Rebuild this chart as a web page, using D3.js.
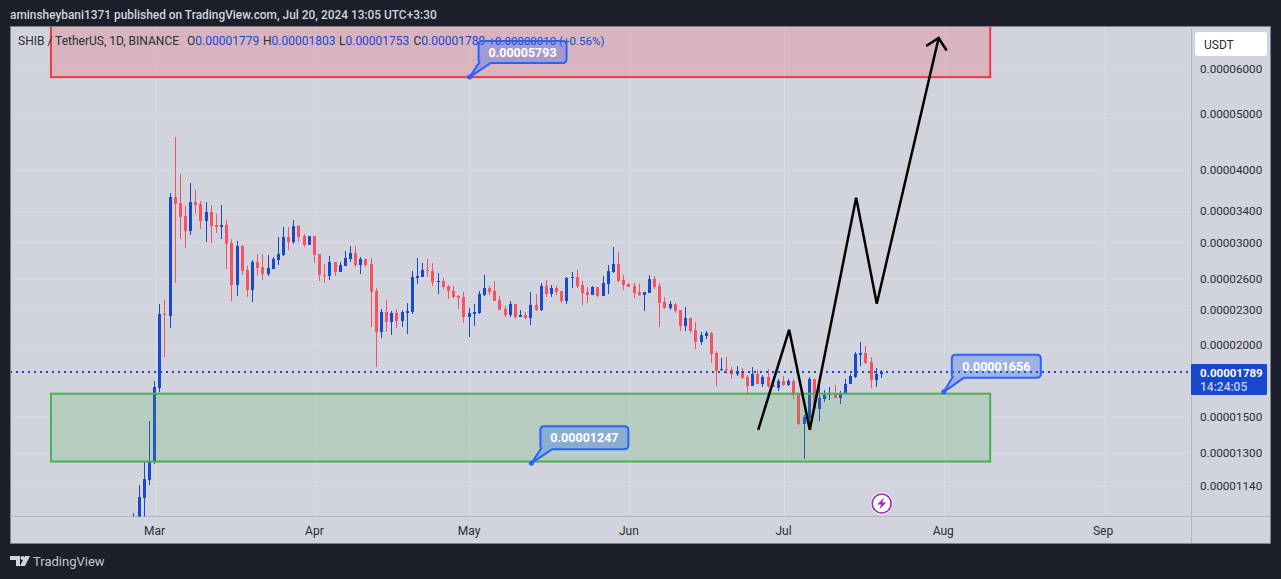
<!DOCTYPE html>
<html>
<head>
<meta charset="utf-8">
<script src="https://cdnjs.cloudflare.com/ajax/libs/d3/7.8.5/d3.min.js"></script>
<style>
html, body { margin: 0; padding: 0; background: #1c202b; overflow: hidden; }
svg { display: block; }
text { font-family: Roboto, "Noto Sans", sans-serif; }
</style>
</head>
<body>
<svg id="chart" width="1281" height="579"></svg>
<script>
// all prices below are in units of 0.00001 USDT, one candle per day from firstDay
var firstDay = "2024-02-26";

var opens = [
  0.960, 0.990, 1.085, 1.167, 1.255, 1.683, 2.260, 2.243, 3.600, 3.515,
  3.337, 3.144, 3.529, 3.501, 3.272, 3.391, 3.220, 3.195, 3.220, 2.998,
  2.537, 2.962, 2.692, 2.486, 2.780, 2.725, 2.650, 2.703, 2.802, 2.858,
  3.070, 3.010, 3.207, 3.082, 2.974, 3.082, 2.869, 2.640, 2.629, 2.780,
  2.671, 2.736, 2.813, 2.881, 2.747, 2.813, 2.758, 2.477, 2.104, 2.278,
  2.190, 2.269, 2.199, 2.269, 2.278, 2.608, 2.619, 2.692, 2.682, 2.567,
  2.577, 2.527, 2.477, 2.428, 2.418, 2.234, 2.260, 2.269, 2.437, 2.507,
  2.477, 2.389, 2.306, 2.251, 2.352, 2.234, 2.251, 2.225, 2.342, 2.296,
  2.527, 2.447, 2.507, 2.477, 2.380, 2.608, 2.619, 2.537, 2.467, 2.437,
  2.517, 2.428, 2.547, 2.671, 2.758, 2.587, 2.547, 2.527, 2.467, 2.437,
  2.457, 2.598, 2.527, 2.370, 2.315, 2.352, 2.296, 2.155, 2.225, 2.120,
  2.022, 2.071, 2.096, 1.935, 1.808, 1.815, 1.808, 1.780, 1.801, 1.759,
  1.697, 1.780, 1.710, 1.759, 1.704, 1.683, 1.731, 1.704, 1.731, 1.644,
  1.459, 1.494, 1.745, 1.548, 1.611, 1.637, 1.650, 1.618, 1.644, 1.710,
  1.759, 1.920, 1.935, 1.867, 1.738, 1.779
];
var highs = [
  1.023, 1.144, 1.255, 1.476, 1.731, 2.352, 2.389, 3.658, 4.571, 3.946,
  3.473, 3.806, 3.702, 3.543, 3.529, 3.487, 3.364, 3.487, 3.285, 3.046,
  3.022, 2.970, 2.736, 2.802, 2.869, 2.869, 2.858, 2.835, 3.070, 3.195,
  3.195, 3.285, 3.220, 3.107, 3.082, 3.082, 2.869, 2.758, 2.847, 2.780,
  2.780, 2.904, 2.962, 2.962, 2.835, 2.824, 2.824, 2.507, 2.306, 2.389,
  2.287, 2.306, 2.296, 2.361, 2.682, 2.824, 2.769, 2.813, 2.769, 2.661,
  2.608, 2.537, 2.527, 2.437, 2.467, 2.315, 2.352, 2.477, 2.640, 2.527,
  2.577, 2.428, 2.333, 2.380, 2.352, 2.296, 2.278, 2.467, 2.447, 2.557,
  2.587, 2.537, 2.527, 2.477, 2.619, 2.671, 2.692, 2.577, 2.517, 2.527,
  2.517, 2.629, 2.747, 2.951, 2.892, 2.640, 2.557, 2.557, 2.547, 2.467,
  2.640, 2.629, 2.557, 2.418, 2.380, 2.361, 2.296, 2.324, 2.225, 2.190,
  2.104, 2.112, 2.104, 1.950, 1.897, 1.905, 1.830, 1.838, 1.823, 1.773,
  1.830, 1.808, 1.773, 1.815, 1.731, 1.745, 1.766, 1.745, 1.745, 1.644,
  1.512, 1.759, 1.745, 1.710, 1.670, 1.690, 1.704, 1.663, 1.745, 1.780,
  1.943, 2.022, 1.990, 1.905, 1.823, 1.803
];
var lows = [
  0.940, 0.960, 0.980, 1.144, 1.245, 1.657, 1.905, 2.138, 2.557, 3.046,
  2.939, 3.095, 3.364, 3.169, 3.010, 2.998, 3.119, 3.046, 2.703, 2.380,
  2.428, 2.640, 2.418, 2.370, 2.629, 2.587, 2.629, 2.703, 2.747, 2.847,
  2.915, 2.986, 3.010, 2.951, 2.974, 2.769, 2.577, 2.557, 2.587, 2.629,
  2.671, 2.736, 2.780, 2.725, 2.650, 2.725, 2.147, 1.830, 2.054, 2.104,
  2.079, 2.138, 2.147, 2.087, 2.260, 2.547, 2.619, 2.619, 2.527, 2.447,
  2.497, 2.399, 2.408, 2.306, 2.181, 2.063, 2.155, 2.260, 2.428, 2.437,
  2.380, 2.296, 2.234, 2.234, 2.216, 2.234, 2.216, 2.164, 2.287, 2.287,
  2.418, 2.418, 2.437, 2.361, 2.352, 2.507, 2.507, 2.342, 2.361, 2.437,
  2.418, 2.428, 2.447, 2.661, 2.567, 2.486, 2.517, 2.408, 2.428, 2.287,
  2.457, 2.497, 2.147, 2.306, 2.296, 2.269, 2.112, 2.112, 2.096, 1.966,
  1.998, 2.046, 1.860, 1.697, 1.801, 1.780, 1.745, 1.766, 1.745, 1.637,
  1.697, 1.710, 1.690, 1.683, 1.690, 1.663, 1.697, 1.697, 1.611, 1.453,
  1.269, 1.453, 1.548, 1.476, 1.592, 1.605, 1.618, 1.580, 1.644, 1.710,
  1.752, 1.838, 1.852, 1.683, 1.690, 1.753
];
var closes = [
  0.990, 1.089, 1.172, 1.259, 1.690, 2.260, 2.251, 3.600, 3.501, 3.324,
  3.144, 3.529, 3.487, 3.272, 3.391, 3.207, 3.195, 3.220, 2.986, 2.537,
  2.962, 2.682, 2.486, 2.780, 2.714, 2.650, 2.714, 2.813, 2.869, 3.070,
  3.010, 3.207, 3.070, 2.974, 3.082, 2.858, 2.640, 2.629, 2.780, 2.671,
  2.747, 2.824, 2.881, 2.747, 2.813, 2.747, 2.467, 2.104, 2.278, 2.190,
  2.269, 2.199, 2.278, 2.287, 2.619, 2.629, 2.692, 2.682, 2.567, 2.577,
  2.517, 2.477, 2.418, 2.408, 2.234, 2.269, 2.278, 2.447, 2.507, 2.467,
  2.380, 2.296, 2.251, 2.352, 2.234, 2.251, 2.225, 2.342, 2.296, 2.527,
  2.447, 2.507, 2.467, 2.380, 2.608, 2.619, 2.527, 2.457, 2.437, 2.517,
  2.428, 2.557, 2.682, 2.758, 2.577, 2.537, 2.517, 2.457, 2.437, 2.467,
  2.598, 2.517, 2.361, 2.315, 2.352, 2.287, 2.155, 2.225, 2.112, 2.022,
  2.079, 2.096, 1.927, 1.801, 1.815, 1.808, 1.780, 1.801, 1.752, 1.697,
  1.780, 1.710, 1.759, 1.697, 1.690, 1.731, 1.704, 1.731, 1.637, 1.459,
  1.500, 1.745, 1.548, 1.618, 1.637, 1.644, 1.618, 1.650, 1.710, 1.766,
  1.927, 1.935, 1.860, 1.738, 1.780, 1.789
];

var lastPrice = 1.789;
var priceTicks = [6, 5, 4, 3.4, 3, 2.6, 2.3, 2, 1.5, 1.3, 1.14];
var monthTicks = ["2024-03-01", "2024-04-01", "2024-05-01", "2024-06-01", "2024-07-01", "2024-08-01", "2024-09-01"];

// drawn zones and the sketched path
var zoneTimes = ["2024-02-09T19:00:00Z", "2024-08-10T00:00:00Z"];
var redZone = [7.5, 5.793];
var greenZone = [1.644, 1.255];
var pathDays = ["2024-06-26", "2024-07-02", "2024-07-06", "2024-07-15", "2024-07-19", "2024-07-31"];
var pathPrices = [1.424, 2.120, 1.424, 3.586, 2.352, 6.769];

var noteDays = ["2024-05-01", "2024-05-13", "2024-08-01"];
var notePrices = [5.793, 1.247, 1.656];

var bg = "#d1d4dc", up = "#1848cc", down = "#f7525f", ink = "#2a2e39";
var parseDay = d3.utcParse("%Y-%m-%d");

var paneLeft = 10, paneRight = 1191.5, paneTop = 26, paneBottom = 516.5;

var x = d3.scaleUtc()
    .domain([parseDay("2024-03-01"), parseDay("2024-09-01")])
    .range([155.1, 1103.6]);

var y = d3.scaleLog()
    .domain([1.14, 6])
    .range([485.7, 68.3]);

var svg = d3.select("#chart");

// pane
svg.append("rect")
    .attr("x", paneLeft + 0.5).attr("y", paneTop + 0.5)
    .attr("width", 1260).attr("height", 517)
    .attr("fill", bg).attr("stroke", "#7f828c");

svg.append("clipPath").attr("id", "plot")
    .append("rect")
    .attr("x", paneLeft + 1).attr("y", paneTop + 1)
    .attr("width", paneRight - paneLeft - 1).attr("height", paneBottom - paneTop - 1);

// axes, gridlines come from the same tick values
var priceFmt = function (v) { return (v / 1e5).toFixed(8); };

var gridY = svg.append("g").attr("transform", "translate(" + paneRight + ",0)")
    .call(d3.axisLeft(y).tickValues(priceTicks).tickSize(paneRight - paneLeft - 1).tickFormat(""));
gridY.select(".domain").remove();
gridY.selectAll("line").attr("stroke", "#d8dbe2");

var gridX = svg.append("g").attr("transform", "translate(0," + paneBottom + ")")
    .call(d3.axisTop(x).tickValues(monthTicks.map(parseDay)).tickSize(paneBottom - paneTop - 1).tickFormat(""));
gridX.select(".domain").remove();
gridX.selectAll("line").attr("stroke", "#d8dbe2");

var axisY = svg.append("g").attr("transform", "translate(1200,0)")
    .call(d3.axisRight(y).tickValues(priceTicks).tickSize(0).tickPadding(0).tickFormat(priceFmt));
axisY.select(".domain").remove();
axisY.selectAll("text").attr("font-size", 11.7).attr("font-family", "Roboto").attr("fill", ink);

var axisX = svg.append("g").attr("transform", "translate(-1," + paneBottom + ")")
    .call(d3.axisBottom(x).tickValues(monthTicks.map(parseDay)).tickSize(0).tickPadding(10).tickFormat(d3.utcFormat("%b")));
axisX.select(".domain").remove();
axisX.selectAll("text").attr("font-size", 12).attr("font-family", "Roboto").attr("fill", ink);

svg.append("line").attr("x1", paneLeft).attr("x2", 1270).attr("y1", paneBottom).attr("y2", paneBottom).attr("stroke", "#b4b7c0");
svg.append("line").attr("x1", paneRight).attr("x2", paneRight).attr("y1", paneTop).attr("y2", 543).attr("stroke", "#b4b7c0");

var plot = svg.append("g").attr("clip-path", "url(#plot)");

// candles
var bars = opens.map(function (o, i) {
    var day = parseDay(firstDay);
    return {
        day: d3.utcDay.offset(day, i),
        open: o, high: highs[i], low: lows[i], close: closes[i]
    };
});

var candleColor = function (d) { return d.close >= d.open ? up : down; };
var candleLeft = function (d) { return Math.floor(x(d.day) - 1.5); };

plot.selectAll(".wick").data(bars).enter().append("rect")
    .attr("class", "wick")
    .attr("x", function (d) { return candleLeft(d) + 1; })
    .attr("y", function (d) { return Math.round(y(d.high)); })
    .attr("width", 1)
    .attr("height", function (d) { return Math.round(y(d.low)) - Math.round(y(d.high)); })
    .attr("fill", candleColor);

plot.selectAll(".body").data(bars).enter().append("rect")
    .attr("class", "body")
    .attr("x", candleLeft)
    .attr("y", function (d) { return Math.round(y(Math.max(d.open, d.close))); })
    .attr("width", 3)
    .attr("height", function (d) {
        return Math.max(1, Math.round(y(Math.min(d.open, d.close))) - Math.round(y(Math.max(d.open, d.close))));
    })
    .attr("fill", candleColor);

// last price line
plot.append("line")
    .attr("x1", paneLeft).attr("x2", paneRight)
    .attr("y1", Math.floor(y(lastPrice))).attr("y2", Math.floor(y(lastPrice)))
    .attr("stroke", up).attr("stroke-width", 2).attr("stroke-dasharray", "2 4");

// zones
var zones = [
    {range: redZone, fill: "rgba(242,54,69,0.2)", stroke: "#f23645"},
    {range: greenZone, fill: "rgba(76,175,80,0.2)", stroke: "#4caf50"}
];
var zoneLeft = x(d3.isoParse(zoneTimes[0])), zoneRight = x(d3.isoParse(zoneTimes[1]));
plot.selectAll(".zone").data(zones).enter().append("rect")
    .attr("class", "zone")
    .attr("x", zoneLeft)
    .attr("width", zoneRight - zoneLeft)
    .attr("y", function (d) { return y(d.range[0]); })
    .attr("height", function (d) { return y(d.range[1]) - y(d.range[0]); })
    .attr("fill", function (d) { return d.fill; })
    .attr("stroke", function (d) { return d.stroke; })
    .attr("stroke-width", 2);

// sketched path with arrow head
var pathPts = pathDays.map(function (d, i) { return [x(parseDay(d)), y(pathPrices[i])]; });
plot.append("path")
    .attr("d", d3.line()(pathPts))
    .attr("fill", "none").attr("stroke", "#000").attr("stroke-width", 2.5)
    .attr("stroke-linejoin", "miter");
var tip = pathPts[pathPts.length - 1];
plot.append("path")
    .attr("d", d3.line()([[tip[0] - 12.5, tip[1] + 8], tip, [tip[0] + 8, tip[1] + 12.5]]))
    .attr("fill", "none").attr("stroke", "#000").attr("stroke-width", 2.5);

// legend line
var legend = svg.append("text").attr("x", 18).attr("y", 45).attr("font-size", 12).attr("fill", ink);
legend.append("tspan").text("SHIB / TetherUS, 1D, BINANCE");
[["O", 187, "0.00001779"], ["H", 263, "0.00001803"], ["L", 339, "0.00001753"], ["C", 413.5, "0.00001789"]]
    .forEach(function (p) {
        legend.append("tspan").attr("x", p[1]).text(p[0]);
        legend.append("tspan").attr("fill", up).text(p[2]);
    });
legend.append("tspan").attr("x", 488.5).attr("font-size", 11.5).attr("fill", up).text("+0.00000010 (+0.56%)");

// price notes
var noteBoxes = [[9, -36, 88, 22], [9, -37, 88, 23], [8, -37, 89, 23]];
var notes = svg.selectAll(".note").data(notePrices).enter().append("g")
    .attr("class", "note")
    .attr("transform", function (d, i) {
        return "translate(" + x(parseDay(noteDays[i])) + "," + y(d) + ")";
    });

notes.append("path")
    .attr("d", function (d, i) {
        var b = noteBoxes[i], x0 = b[0], y0 = b[1], x1 = x0 + b[2], y1 = y0 + b[3], r = 4;
        return "M0,0L" + (x0 + 1) + "," + (y1 - 1) +
            "Q" + x0 + "," + (y1 - 1) + " " + x0 + "," + (y1 - r) +
            "V" + (y0 + r) + "Q" + x0 + "," + y0 + " " + (x0 + r) + "," + y0 +
            "H" + (x1 - r) + "Q" + x1 + "," + y0 + " " + x1 + "," + (y0 + r) +
            "V" + (y1 - r) + "Q" + x1 + "," + y1 + " " + (x1 - r) + "," + y1 +
            "H" + (x0 + 12) + "Z";
    })
    .attr("fill", "rgba(41,98,255,0.3)")
    .attr("stroke", "#2962ff").attr("stroke-width", 2).attr("stroke-linejoin", "round");

notes.append("circle").attr("r", 2.5).attr("fill", "#2962ff");

notes.append("text")
    .attr("x", function (d, i) { return noteBoxes[i][0] + noteBoxes[i][2] / 2; })
    .attr("y", function (d, i) { return noteBoxes[i][1] + noteBoxes[i][3] / 2 + 4.5; })
    .attr("text-anchor", "middle")
    .attr("font-size", 12.5).attr("font-weight", 700).attr("fill", "#fff")
    .text(priceFmt);

// alert badge
var badge = svg.append("g").attr("transform", "translate(881.7,503.5)");
badge.append("circle").attr("r", 11).attr("fill", "#fff");
badge.append("circle").attr("r", 9.5).attr("fill", "#fff").attr("stroke", "#9c27b0").attr("stroke-width", 1.6);
badge.append("path").attr("d", "M2.5,-6L-4.5,1H-0.5L-2.5,6L4.5,-1H0.5Z").attr("fill", "#9c27b0");

// last price tag and currency button
svg.append("rect").attr("x", 1191).attr("y", 364).attr("width", 76).attr("height", 31).attr("fill", up).attr("rx", 1);
svg.append("text").attr("x", 1200).attr("y", 376.5).attr("font-size", 11.5).attr("font-weight", 700).attr("fill", "#fff").text(priceFmt(lastPrice));
svg.append("text").attr("x", 1200).attr("y", 391).attr("font-size", 12).attr("font-weight", 500).attr("fill", "#c3cff0").text("14:24:05");

svg.append("rect").attr("x", 1195).attr("y", 32).attr("width", 72).attr("height", 24).attr("rx", 3).attr("fill", "#fff");
svg.append("text").attr("x", 1204).attr("y", 48.5).attr("font-size", 12).attr("fill", ink).text("USDT");

// page header and footer
svg.append("text").attr("x", 10).attr("y", 18.5).attr("font-size", 11.9).attr("font-weight", 500).attr("fill", "#d1d4dc")
    .text("aminsheybani1371 published on TradingView.com, Jul 20, 2024 13:05 UTC+3:30");

svg.append("path")
    .attr("d", "M10,556H20V566H16V560H10ZM25,556H30L25,566H20Z")
    .attr("fill", "#d1d4dc");
svg.append("circle").attr("cx", 22.5).attr("cy", 558).attr("r", 2).attr("fill", "#d1d4dc");
svg.append("text").attr("x", 33).attr("y", 566).attr("font-size", 13).attr("fill", "#c5c8d0").text("TradingView");
</script>
</body>
</html>
